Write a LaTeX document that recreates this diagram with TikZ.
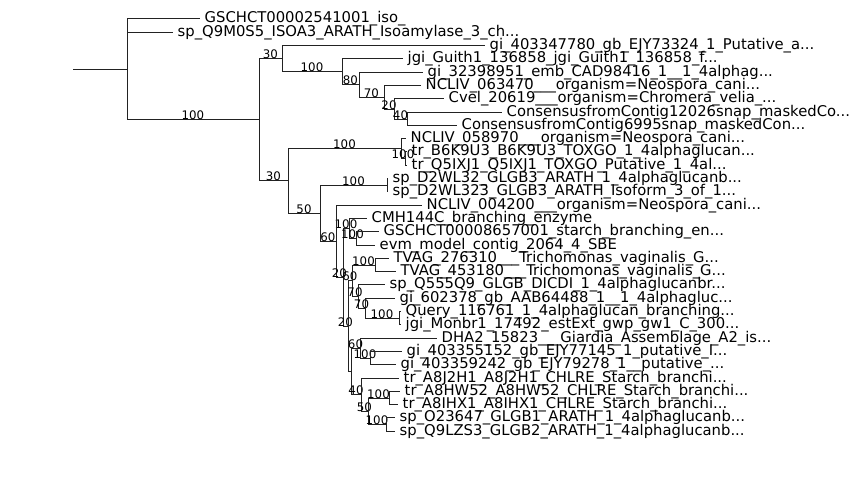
\documentclass[tikz,border=0pt]{standalone}
\usepackage{fontspec}
\setmainfont{DejaVu Sans}
\definecolor{treeInk}{HTML}{222222}
\newcommand{\treeDots}{...}
\tikzset{
  tree diagram/.style={
    x=1pt, y=-1pt, line width=1pt, draw=treeInk,
    every node/.style={inner sep=0pt, outer sep=0pt, text=black}
  },
  tree leaf/.style={anchor=west, xshift=4.7pt,
    font=\fontsize{14.8}{17}\selectfont, text height=11.2pt, text depth=3.1pt},
  tree conf/.style={anchor=base, font=\fontsize{11.8}{14}\selectfont}
}

\begin{document}
\begin{tikzpicture}[tree diagram]
  \useasboundingbox (0,0) rectangle (863,490);
  % inner clades
  \foreach \treeName/\treeX/\treeY in {
    root/127/69.4, nA/259/119.8, nB/282/58.8, nD/342/71.9, nE/359/84.8,
    nF/384/97.3, nG/394/109.1, nH/407/119, nC/288/180.8, nI/401/148.6,
    nK/405/158.6, nJ/320/213, nL/387/185.2, nM/336/241, nN/343/277.2,
    nO/349/228.4, nOO/356/238.4, nP/348/326, nQ/352/280.8, nTV/375/265,
    nS/358/296.5, nT/365/308.2, nU/399/318.2, nVW/351/371.3, nV/360/348,
    nX/370/358, nW/361/394.6, nY/368/411.3, nYY/389/398, nZ/386/424.5
  } {
    \coordinate (\treeName) at (\treeX,\treeY);
  }
  \coordinate (base) at (73,69.4);
  \draw (base) -- (root);
  \foreach \treeFrom/\treeTo/\treeConf in {
    root/nA/100, nA/nB/30, nB/nD/100, nD/nE/80, nE/nF/70, nF/nG/20,
    nG/nH/40, nA/nC/30, nC/nI/100, nI/nK/100, nC/nJ/50, nJ/nL/100,
    nJ/nM/60, nM/nN/20, nN/nO/100, nO/nOO/100, nN/nP/20, nP/nQ/60,
    nQ/nTV/100, nQ/nS/70, nS/nT/70, nT/nU/100, nVW/nV/60, nV/nX/100,
    nVW/nW/40, nW/nY/50, nY/nYY/100, nY/nZ/100
  } {
    \draw (\treeFrom) |- node[tree conf, pos=0.75] {\treeConf} (\treeTo);
  }
  \draw (nP) |- (nVW);
  % leaves
  \foreach \treeRow/\treeX/\treeFrom/\treeText in {
    0/200/root/GSCHCT00002541001\_iso\_,
    1/173/root/sp\_Q9M0S5\_ISOA3\_ARATH\_Isoamylase\_3\_ch\treeDots,
    2/485/nB/gi\_403347780\_gb\_EJY73324\_1\_Putative\_a\treeDots,
    3/403/nD/jgi\_Guith1\_136858\_jgi\_Guith1\_136858\_f\treeDots,
    4/423/nE/gi\_32398951\_emb\_CAD98416\_1\_\_1\_4alphag\treeDots,
    5/421/nF/NCLIV\_063470\_\_\_organism=Neospora\_cani\treeDots,
    6/444/nG/Cvel\_20619\_\_\_organism=Chromera\_velia\_\treeDots,
    7/502/nH/ConsensusfromContig12026snap\_maskedCo\treeDots,
    8/457/nH/ConsensusfromContig6995snap\_maskedCon\treeDots,
    9/406/nI/NCLIV\_058970\_\_\_organism=Neospora\_cani\treeDots,
    10/407/nK/tr\_B6K9U3\_B6K9U3\_TOXGO\_1\_4alphaglucan\treeDots,
    11/407/nK/tr\_Q5IXJ1\_Q5IXJ1\_TOXGO\_Putative\_1\_4al\treeDots,
    12/388/nL/sp\_D2WL32\_GLGB3\_ARATH\_1\_4alphaglucanb\treeDots,
    13/388/nL/sp\_D2WL323\_GLGB3\_ARATH\_Isoform\_3\_of\_1\treeDots,
    14/422/nM/NCLIV\_004200\_\_\_organism=Neospora\_cani\treeDots,
    15/367/nO/CMH144C\_branching\_enzyme,
    16/379/nOO/GSCHCT00008657001\_starch\_branching\_en\treeDots,
    17/375/nOO/evm\_model\_contig\_2064\_4\_SBE,
    18/389/nTV/TVAG\_276310\_\_\_Trichomonas\_vaginalis\_G\treeDots,
    19/396/nTV/TVAG\_453180\_\_\_Trichomonas\_vaginalis\_G\treeDots,
    20/385/nS/sp\_Q555Q9\_GLGB\_DICDI\_1\_4alphaglucanbr\treeDots,
    21/395/nT/gi\_602378\_gb\_AAB64488\_1\_\_1\_4alphagluc\treeDots,
    22/401/nU/Query\_116761\_1\_4alphaglucan\_branching\treeDots,
    23/401/nU/jgi\_Monbr1\_17492\_estExt\_gwp\_gw1\_C\_300\treeDots,
    24/437/nV/DHA2\_15823\_\_\_Giardia\_Assemblage\_A2\_is\treeDots,
    25/402/nX/gi\_403355152\_gb\_EJY77145\_1\_putative\_I\treeDots,
    26/396/nX/gi\_403359242\_gb\_EJY79278\_1\_\_putative\_\treeDots,
    27/399/nW/tr\_A8J2H1\_A8J2H1\_CHLRE\_Starch\_branchi\treeDots,
    28/400/nYY/tr\_A8HW52\_A8HW52\_CHLRE\_Starch\_branchi\treeDots,
    29/398/nYY/tr\_A8IHX1\_A8IHX1\_CHLRE\_Starch\_branchi\treeDots,
    30/395/nZ/sp\_O23647\_GLGB1\_ARATH\_1\_4alphaglucanb\treeDots,
    31/395/nZ/sp\_Q9LZS3\_GLGB2\_ARATH\_1\_4alphaglucanb\treeDots
  } {
    \coordinate (leaf\treeRow) at (\treeX,{18.9+13.3*\treeRow});
    \draw (\treeFrom) |- (leaf\treeRow);
    \node[tree leaf] (name\treeRow) at (leaf\treeRow) {\treeText};
  }
\end{tikzpicture}
\end{document}
